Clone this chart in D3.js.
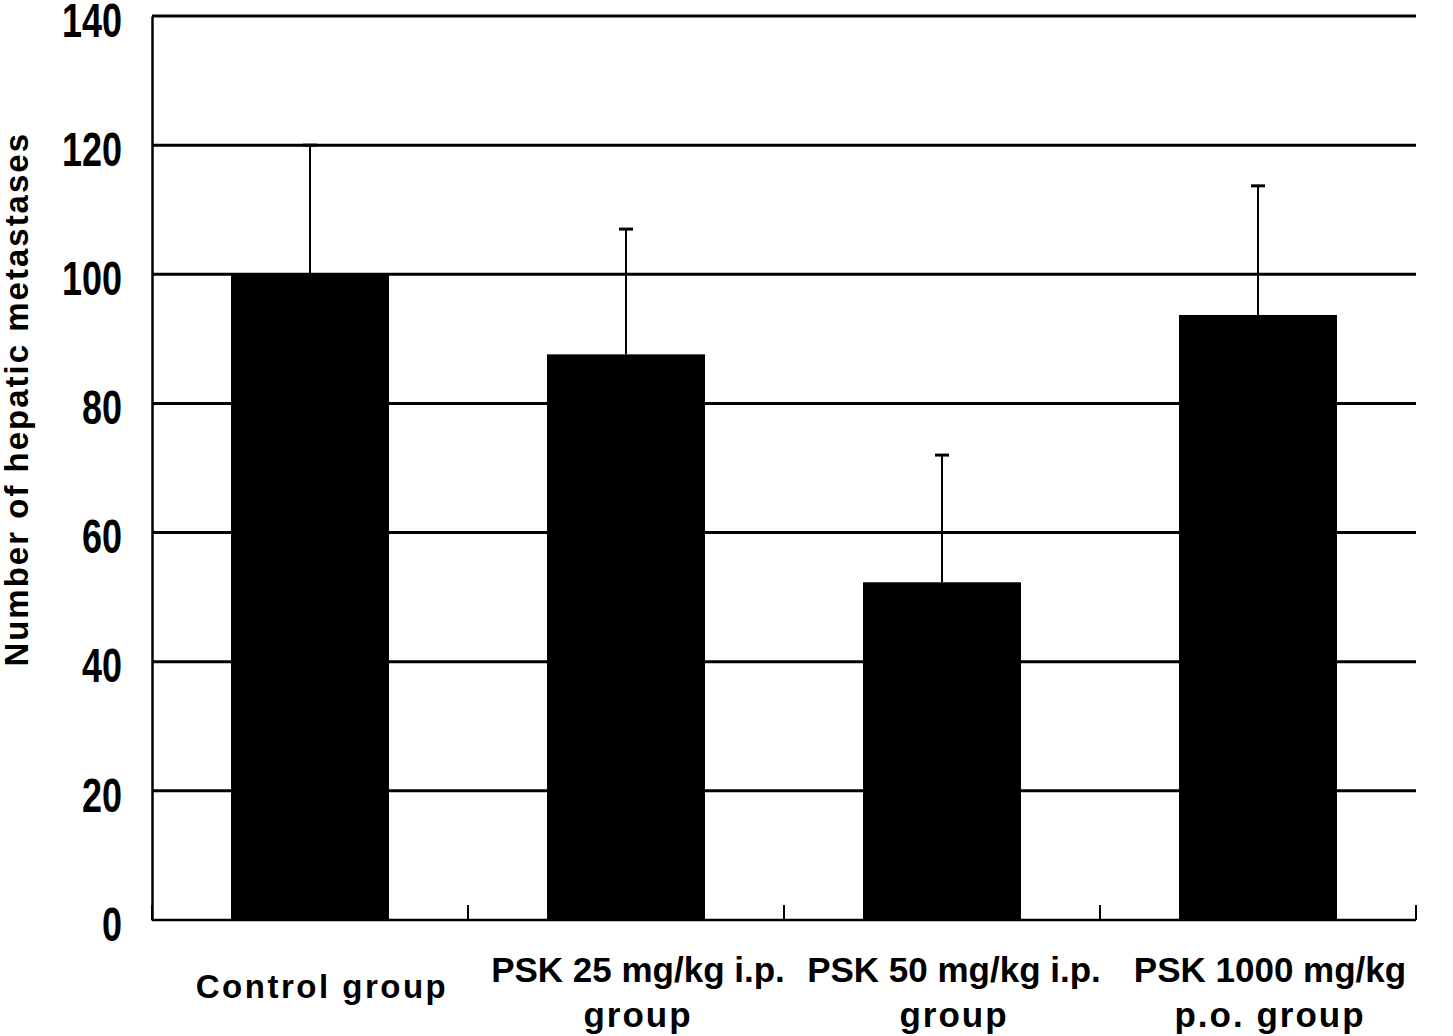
<!DOCTYPE html>
<html>
<head>
<meta charset="utf-8">
<script src="https://cdn.jsdelivr.net/npm/d3@7"></script>
<style>
  html, body { margin: 0; padding: 0; background: #fff; }
  svg { display: block; }
</style>
</head>
<body>
<script>
const categories = ["Control group", "PSK 25 mg/kg i.p. group", "PSK 50 mg/kg i.p. group", "PSK 1000 mg/kg p.o. group"];
const labelLines = [["Control group"], ["PSK 25 mg/kg i.p.", "group"], ["PSK 50 mg/kg i.p.", "group"], ["PSK 1000 mg/kg", "p.o. group"]];
const means = [100, 87.6, 52.3, 93.7];
const errors = [20, 19.4, 19.7, 20.0];
const yTicks = [0, 20, 40, 60, 80, 100, 120, 140];
const yLabel = "Number of hepatic metastases";

const W = 1453, H = 1036;
const margin = {left: 152, top: 16, right: 37, bottom: 116};
const iw = W - margin.left - margin.right;
const ih = H - margin.top - margin.bottom;

const svg = d3.select("body").append("svg").attr("width", W).attr("height", H);
const g = svg.append("g").attr("transform", `translate(${margin.left},${margin.top})`);

const x = d3.scaleBand().domain(categories).range([0, iw]).paddingInner(0.5).paddingOuter(0.25);
const xb = d3.scaleBand().domain(categories).range([0, iw]);
const y = d3.scaleLinear().domain([0, 140]).range([ih, 0]);

// gridlines
g.append("g").selectAll("line").data(yTicks.filter(d => d > 0)).join("line")
  .attr("x1", 0).attr("x2", iw)
  .attr("y1", d => y(d)).attr("y2", d => y(d))
  .attr("stroke", "#000").attr("stroke-width", 3);

// error bars
const eb = g.append("g");
eb.selectAll("line.v").data(categories).join("line").attr("class", "v")
  .attr("x1", d => x(d) + x.bandwidth() / 2).attr("x2", d => x(d) + x.bandwidth() / 2)
  .attr("y1", (d, i) => y(means[i])).attr("y2", (d, i) => y(means[i] + errors[i]))
  .attr("stroke", "#000").attr("stroke-width", 2);
eb.selectAll("line.c").data(categories).join("line").attr("class", "c")
  .attr("x1", d => x(d) + x.bandwidth() / 2 - 7).attr("x2", d => x(d) + x.bandwidth() / 2 + 7)
  .attr("y1", (d, i) => y(means[i] + errors[i])).attr("y2", (d, i) => y(means[i] + errors[i]))
  .attr("stroke", "#000").attr("stroke-width", 3);

// bars
g.append("g").selectAll("rect").data(categories).join("rect")
  .attr("x", d => x(d)).attr("width", x.bandwidth())
  .attr("y", (d, i) => y(means[i])).attr("height", (d, i) => ih - y(means[i]))
  .attr("fill", "#000");

// y axis
const yAxis = g.append("g").call(d3.axisLeft(y).tickValues(yTicks).tickSize(0).tickPadding(30));
yAxis.select(".domain").attr("stroke", "#000").attr("stroke-width", 2.5);
yAxis.selectAll("text")
  .attr("font-family", "'Liberation Sans', Arial, sans-serif")
  .attr("font-weight", "bold").attr("font-size", 48).attr("fill", "#000")
  .attr("x", 0).attr("dy", "0.38em")
  .attr("transform", "translate(-30,2) scale(0.75,1)");

// x axis
const xAxis = g.append("g").attr("transform", `translate(0,${ih})`);
xAxis.append("line").attr("x1", 0).attr("x2", iw).attr("y1", 0).attr("y2", 0)
  .attr("stroke", "#000").attr("stroke-width", 2.5);
const bounds = categories.map(c => xb(c)).concat([iw]);
xAxis.selectAll("line.tk").data(bounds).join("line").attr("class", "tk")
  .attr("x1", d => d).attr("x2", d => d).attr("y1", 0).attr("y2", -15)
  .attr("stroke", "#000").attr("stroke-width", 2);

// category labels
const lab = xAxis.selectAll("text.cat").data(categories).join("text").attr("class", "cat")
  .attr("font-family", "'Liberation Sans', Arial, sans-serif")
  .attr("font-weight", "bold").attr("fill", "#000")
  .attr("text-anchor", "middle");
lab.each(function(d, i) {
  const t = d3.select(this);
  const cx = xb(d) + xb.bandwidth() / 2 + 12;
  const lines = labelLines[i];
  if (lines.length === 1) {
    t.append("tspan").attr("x", cx).attr("y", 78).attr("font-size", 33).attr("letter-spacing", 2.5).text(lines[0]);
  } else {
    lines.forEach((l, j) => {
      t.append("tspan").attr("x", cx).attr("y", 62 + j * 45).attr("font-size", 35)
        .attr("letter-spacing", j === 0 ? 0 : 2).text(l);
    });
  }
});

// y label
svg.append("text")
  .attr("transform", `translate(28,${margin.top + ih * 0.424}) rotate(-90)`)
  .attr("text-anchor", "middle")
  .attr("font-family", "'Liberation Sans', Arial, sans-serif")
  .attr("font-weight", "bold").attr("font-size", 33).attr("fill", "#000")
  .attr("letter-spacing", 2)
  .text(yLabel);
</script>
</body>
</html>
